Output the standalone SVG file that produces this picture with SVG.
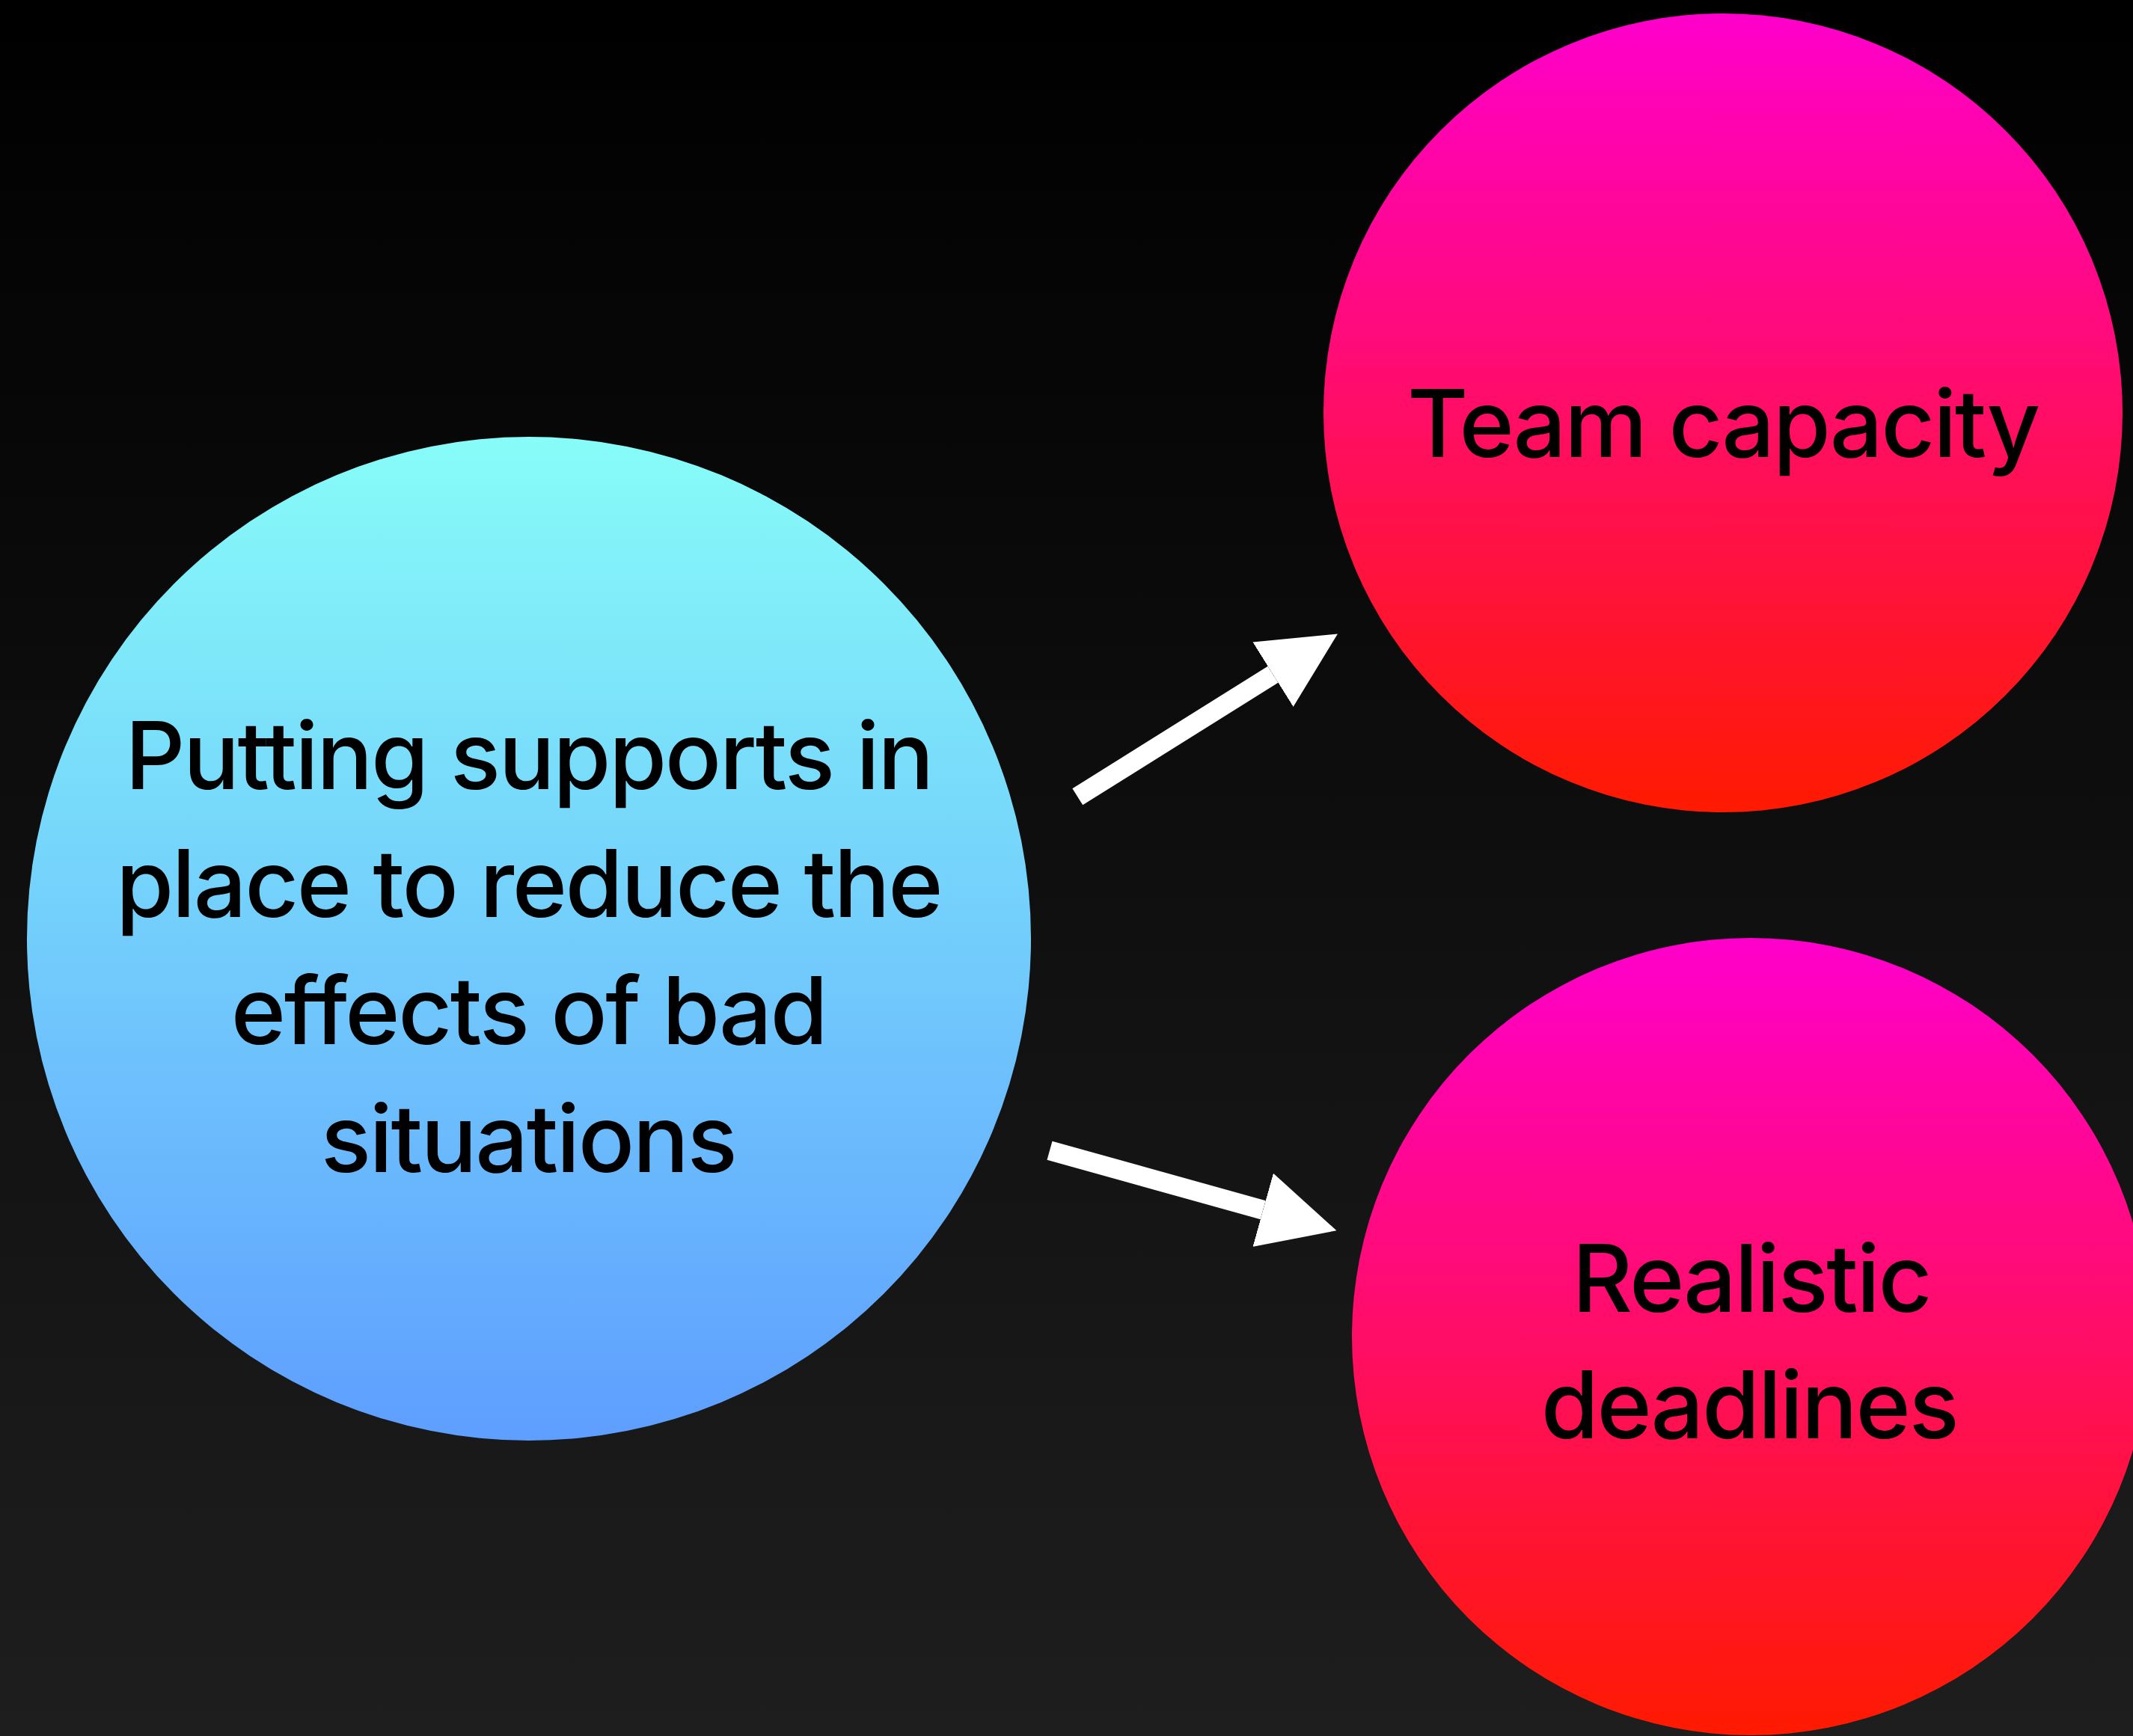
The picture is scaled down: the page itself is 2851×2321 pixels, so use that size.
<svg xmlns="http://www.w3.org/2000/svg" width="2851" height="2321" viewBox="0 0 2851 2321">
  <defs>
    <linearGradient id="bg" x1="0" y1="0" x2="0" y2="1">
      <stop offset="0" stop-color="#000000"/>
      <stop offset="1" stop-color="#1e1e1e"/>
    </linearGradient>
    <linearGradient id="cyan" x1="0" y1="0" x2="0" y2="1">
      <stop offset="0" stop-color="#87fcf8"/>
      <stop offset="1" stop-color="#5e9eff"/>
    </linearGradient>
    <linearGradient id="hot" x1="0" y1="0" x2="0" y2="1">
      <stop offset="0" stop-color="#ff00cc"/>
      <stop offset="1" stop-color="#ff1a00"/>
    </linearGradient>
    <marker id="head" viewBox="0 -51 102 102" markerUnits="userSpaceOnUse" markerWidth="102" markerHeight="102" refX="0" refY="0" orient="auto">
      <path d="M0,-51 L102,0 L0,51 Z" fill="#ffffff"/>
    </marker>
  </defs>
  <style>
    .label { font-family: Inter, "Liberation Sans", sans-serif; font-size: 125px; font-weight: 500; letter-spacing: -2.5px; font-variant-ligatures: none; font-feature-settings: "calt" 0, "liga" 0; fill: #000000; text-anchor: middle; }
    .link { stroke: #ffffff; stroke-width: 26; fill: none; stroke-linecap: butt; marker-end: url(#head); }
  </style>

  <rect x="0" y="0" width="2851" height="2321" fill="url(#bg)"/>

  <g id="connectors">
    <path class="link" d="M1440.3,1065.3 L1701.5,901.7"/>
    <path class="link" d="M1403,1538.2 L1688.2,1617.8"/>
  </g>

  <g id="supports">
    <circle cx="707" cy="1255" r="671" fill="url(#cyan)"/>
    <text class="label">
      <tspan x="722" y="1055">Putting supports in</tspan>
      <tspan x="722" y="1226">place to reduce the</tspan>
      <tspan x="722" y="1396">effects of bad</tspan>
      <tspan x="706" y="1567">situations</tspan>
    </text>
  </g>

  <g id="team-capacity">
    <circle cx="2303" cy="552" r="534" fill="url(#hot)"/>
    <text class="label" x="2303" y="611">Team capacity</text>
  </g>

  <g id="realistic-deadlines">
    <circle cx="2340" cy="1787" r="533" fill="url(#hot)"/>
    <text class="label">
      <tspan x="2356" y="1754">Realistic</tspan>
      <tspan x="2338" y="1923">deadlines</tspan>
    </text>
  </g>
</svg>
